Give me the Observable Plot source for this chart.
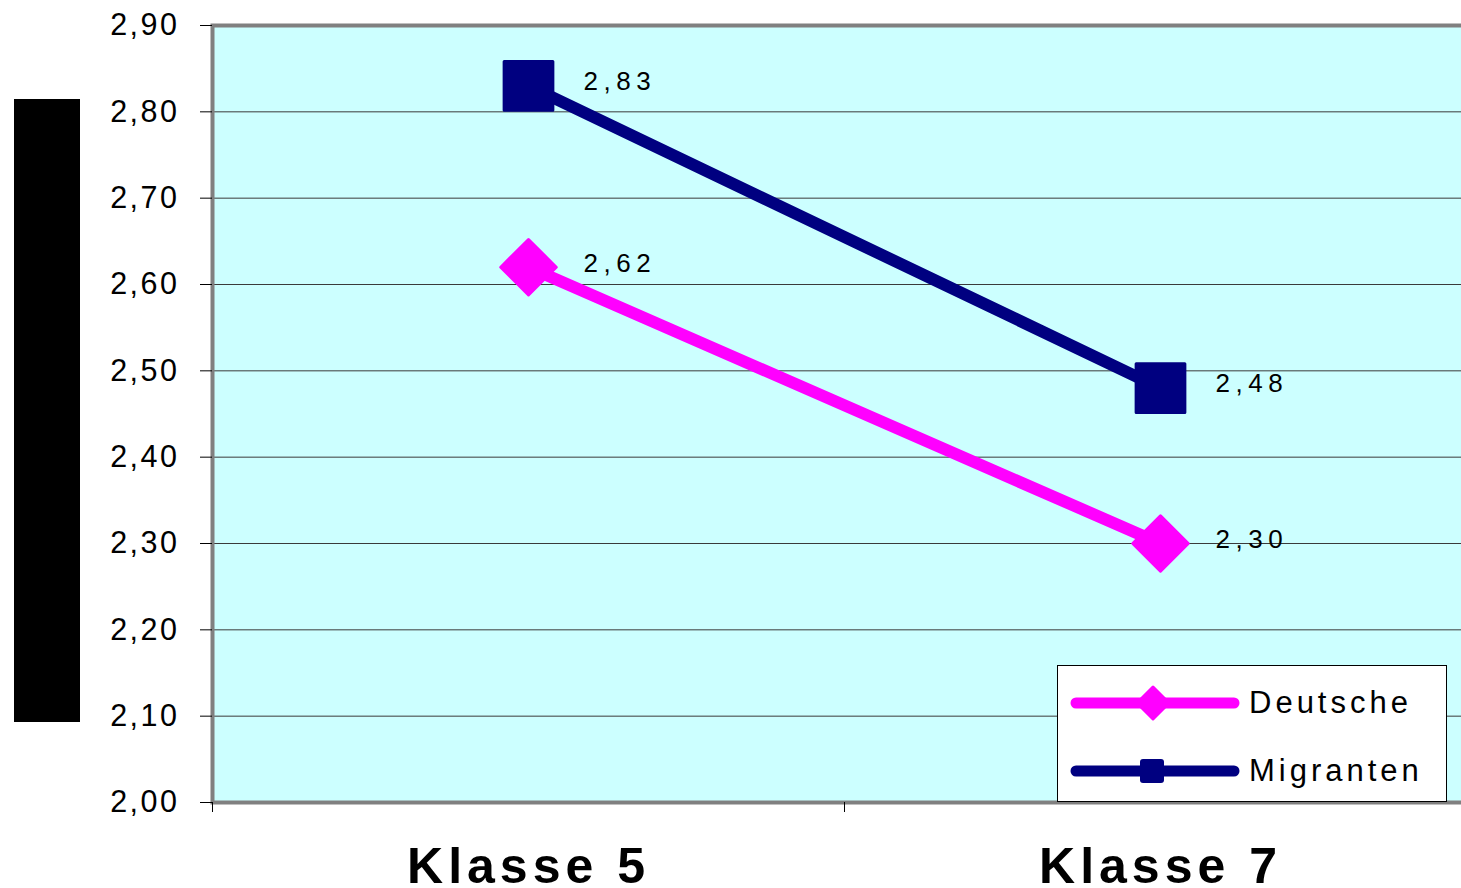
<!DOCTYPE html>
<html>
<head>
<meta charset="utf-8">
<script src="https://cdn.jsdelivr.net/npm/d3@7"></script>
<script src="https://cdn.jsdelivr.net/npm/@observablehq/plot@0.6"></script>
<style>
  html, body { margin: 0; padding: 0; background: #fff; overflow: hidden; }
  #wrap { position: relative; width: 1461px; height: 888px; overflow: hidden; font-family: "Liberation Sans", Arial, sans-serif; }
  #chart { position: absolute; left: 0; top: 0; width: 1490px; }
  #chart svg { max-width: none !important; width: 1490px; height: 888px; }
  .ytitle { position: absolute; left: 14px; top: 99px; width: 66px; height: 623px; background: #000; }
  .legend { position: absolute; left: 1057px; top: 665px; width: 388px; height: 135px; background: #fff; border: 1px solid #000; }
  .legend .item { position: absolute; left: 12px; height: 40px; display: flex; align-items: center; }
  .legend .item span { font-size: 31px; letter-spacing: 4px; color: #000; margin-left: 9px; }
  #chart svg g[aria-label="y-axis tick label"] text { letter-spacing: 2.5px; }
  #chart svg g[aria-label="text"] text { letter-spacing: 5.5px; }
  #chart svg g[aria-label="x-axis tick label"] text { letter-spacing: 5px; }
</style>
</head>
<body>
<div id="wrap">
  <div id="chart"></div>
  <div class="ytitle"></div>
  <div class="legend" id="legend"></div>
</div>
<script>
// School grades (Klasse 5 vs. Klasse 7) for two groups of pupils
const categories = ["Klasse 5", "Klasse 7"];
const seriesNames = ["Deutsche", "Migranten"];
const deutsche = [2.62, 2.30];
const migranten = [2.83, 2.48];
const yTicks = [2.0, 2.1, 2.2, 2.3, 2.4, 2.5, 2.6, 2.7, 2.8, 2.9];
const colors = ["#FF00FF", "#000080"];

const fmt = v => v.toFixed(2).replace(".", ",");

// one row per (series, class); x is the band centre of the class
const rows = [];
[deutsche, migranten].forEach((vals, s) => {
  vals.forEach((v, i) => rows.push({series: seriesNames[s], x: i + 0.5, value: v}));
});
const rowsD = rows.filter(d => d.series === seriesNames[0]);
const rowsM = rows.filter(d => d.series === seriesNames[1]);

const chart = Plot.plot({
  width: 1490,
  height: 888,
  marginTop: 25,
  marginBottom: 86,
  marginLeft: 212,
  marginRight: 14,
  style: {fontFamily: "'Liberation Sans', Arial, sans-serif", background: "transparent", color: "#000"},
  x: {domain: [0, categories.length], label: null},
  y: {domain: [yTicks[0], yTicks[yTicks.length - 1]], label: null},
  color: {domain: seriesNames, range: colors},
  marks: [
    Plot.frame({fill: "#CCFFFF"}),
    Plot.gridY(yTicks.slice(1, -1), {stroke: "#3a3a3a", strokeOpacity: 1, strokeWidth: 1}),
    Plot.frame({stroke: "#808080", strokeWidth: 4}),
    Plot.axisY({ticks: yTicks, tickSize: 12, tickPadding: 21, tickFormat: fmt, fontSize: 30.5, stroke: "#000", label: null}),
    Plot.axisX({ticks: d3.range(categories.length + 1), tickSize: 10, tickFormat: () => "", stroke: "#000", label: null}),
    Plot.axisX({ticks: categories.map((c, i) => i + 0.5), tickSize: 0, tickPadding: 45,
      tickFormat: v => categories[Math.floor(v)], fontSize: 50, fontWeight: "bold", label: null}),
    Plot.line(rows, {x: "x", y: "value", z: "series", stroke: "series", strokeWidth: 12}),
    Plot.dot(rowsD, {x: "x", y: "value", symbol: "diamond2", r: 25, fill: colors[0], stroke: colors[0], strokeWidth: 3, strokeLinejoin: "round"}),
    Plot.dot(rowsM, {x: "x", y: "value", symbol: "square", r: 27.5, fill: colors[1], stroke: colors[1], strokeWidth: 3, strokeLinejoin: "round"}),
    Plot.text(rows, {x: "x", y: "value", text: d => fmt(d.value), dx: 55, dy: -4, textAnchor: "start", fontSize: 26, fill: "#000"})
  ]
});
document.getElementById("chart").appendChild(chart);

// legend: line swatch with the series marker, then the series name
const legend = document.getElementById("legend");
const symbols = [
  '<path d="M83,-16 L99,0 L83,16 L67,0 Z" fill="#FF00FF" stroke="#FF00FF" stroke-width="3" stroke-linejoin="round"/>',
  '<rect x="70" y="-12" width="24" height="24" rx="3" fill="#000080"/>'
];
seriesNames.forEach((name, i) => {
  const item = document.createElement("div");
  item.className = "item";
  item.style.top = (i === 0 ? 17 : 85) + "px";
  item.innerHTML =
    `<svg width="170" height="40" viewBox="0 -20 170 40">` +
    `<line x1="6" y1="0" x2="164" y2="0" stroke="${colors[i]}" stroke-width="11" stroke-linecap="round"/>` +
    symbols[i] + `</svg><span>${name}</span>`;
  legend.appendChild(item);
});
</script>
</body>
</html>
